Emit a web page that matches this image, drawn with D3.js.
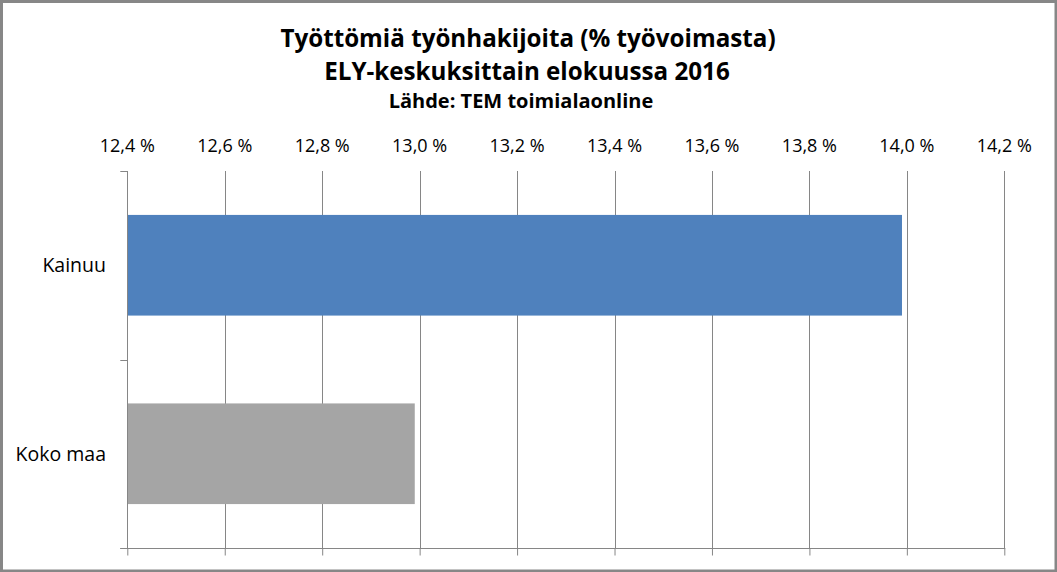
<!DOCTYPE html>
<html>
<head>
<meta charset="utf-8">
<script src="https://cdn.jsdelivr.net/npm/d3@7"></script>
<style>
  html, body { margin: 0; padding: 0; background: #fff; }
  svg { display: block; }
</style>
</head>
<body>
<div id="vis"></div>
<script>
// chart data
var titleLines = ["Työttömiä työnhakijoita (% työvoimasta)", "ELY-keskuksittain elokuussa 2016"];
var subTitle = "Lähde: TEM toimialaonline";
var categories = ["Kainuu", "Koko maa"];
var values = [13.99, 12.99];
var barColors = ["#4f81bd", "#a5a5a5"];
var tickValues = [12.4, 12.6, 12.8, 13.0, 13.2, 13.4, 13.6, 13.8, 14.0, 14.2];

var width = 1057, height = 572;
var margin = {top: 171, right: 52.7, bottom: 24, left: 127.3};
var fontFam = "'Open Sans', sans-serif";

var svg = d3.select("#vis").append("svg")
	.attr("width", width)
	.attr("height", height);

// chart frame
svg.append("rect")
	.attr("x", 1.5).attr("y", 1.5)
	.attr("width", width - 2.5).attr("height", height - 2.5)
	.attr("fill", "#fff")
	.attr("stroke", "#878787")
	.attr("stroke-width", 3);

var x = d3.scaleLinear()
	.domain([12.4, 14.2])
	.range([margin.left, width - margin.right]);

var y = d3.scaleBand()
	.domain(categories)
	.range([margin.top, height - margin.bottom])
	.paddingInner(0.466)
	.paddingOuter(0.233);

var fmt = function(d){ return d3.format(".1f")(d).replace(".", ",") + " %"; };

// gridlines
svg.append("g")
	.selectAll("line")
	.data(tickValues)
	.join("line")
	.attr("x1", function(d){ return Math.round(x(d)) + 0.5; })
	.attr("x2", function(d){ return Math.round(x(d)) + 0.5; })
	.attr("y1", margin.top)
	.attr("y2", height - margin.bottom)
	.attr("stroke", "#868686")
	.attr("stroke-width", 1);

// bars
svg.append("g")
	.selectAll("rect")
	.data(categories)
	.join("rect")
	.attr("x", x(12.4))
	.attr("y", function(d){ return y(d); })
	.attr("width", function(d, i){ return x(values[i]) - x(12.4); })
	.attr("height", y.bandwidth())
	.attr("fill", function(d, i){ return barColors[i]; });

// bottom axis (no labels)
var xAxisBottom = svg.append("g")
	.attr("transform", "translate(0," + (Math.round(height - margin.bottom) + 0.5) + ")")
	.call(d3.axisBottom(x).tickValues(tickValues).tickSize(7).tickFormat(""));
xAxisBottom.select(".domain").attr("stroke", "#868686").attr("d", "M" + (margin.left - 7) + ",0H" + (width - margin.right + 1));
xAxisBottom.selectAll(".tick line").attr("stroke", "#868686");

// top labels
svg.append("g")
	.selectAll("text")
	.data(tickValues)
	.join("text")
	.attr("x", function(d){ return x(d); })
	.attr("y", 152)
	.attr("text-anchor", "middle")
	.style("font-family", fontFam)
	.style("font-size", "18px")
	.attr("fill", "#000")
	.text(fmt);

// left axis
var yTicks = [margin.top, margin.top + (height - margin.bottom - margin.top) / 2, height - margin.bottom];
svg.append("line")
	.attr("x1", Math.round(margin.left) + 0.5).attr("x2", Math.round(margin.left) + 0.5)
	.attr("y1", margin.top).attr("y2", height - margin.bottom)
	.attr("stroke", "#868686");
svg.append("g")
	.selectAll("line")
	.data(yTicks)
	.join("line")
	.attr("x1", margin.left - 7).attr("x2", margin.left)
	.attr("y1", function(d){ return Math.round(d) + 0.5; })
	.attr("y2", function(d){ return Math.round(d) + 0.5; })
	.attr("stroke", "#868686");

svg.append("g")
	.selectAll("text")
	.data(categories)
	.join("text")
	.attr("x", 106)
	.attr("y", function(d){ return y(d) + y.bandwidth() / 2; })
	.attr("dy", "0.35em")
	.attr("text-anchor", "end")
	.style("font-family", fontFam)
	.style("font-size", "19.5px")
	.text(function(d){ return d; });

// titles
svg.append("text")
	.attr("x", 528).attr("y", 47)
	.attr("text-anchor", "middle")
	.style("font-family", fontFam)
	.style("font-size", "24.2px")
	.style("font-weight", "bold")
	.text(titleLines[0]);
svg.append("text")
	.attr("x", 527).attr("y", 80)
	.attr("text-anchor", "middle")
	.style("font-family", fontFam)
	.style("font-size", "24.2px")
	.style("font-weight", "bold")
	.text(titleLines[1]);
svg.append("text")
	.attr("x", 521).attr("y", 108)
	.attr("text-anchor", "middle")
	.style("font-family", fontFam)
	.style("font-size", "20px")
	.style("font-weight", "bold")
	.text(subTitle);
</script>
</body>
</html>
